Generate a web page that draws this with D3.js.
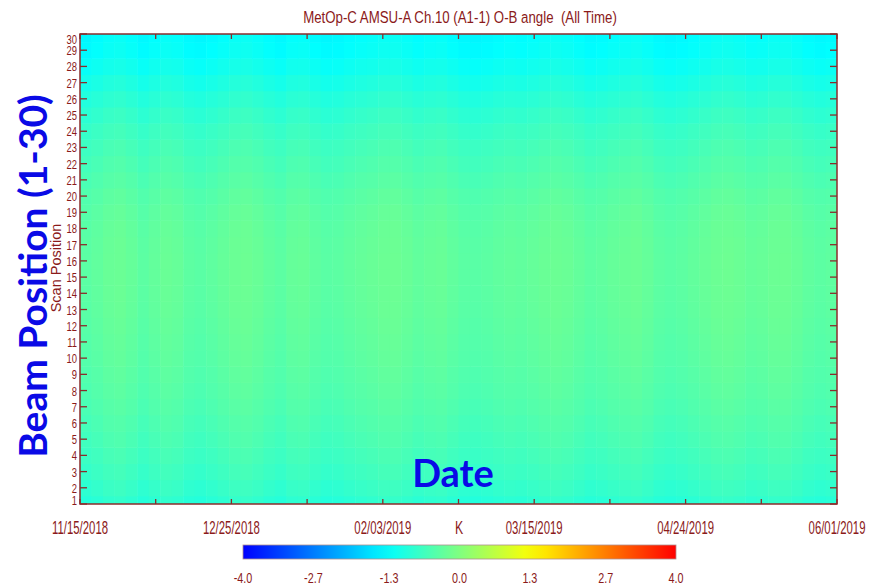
<!DOCTYPE html>
<html>
<head>
<meta charset="utf-8">
<script src="https://cdn.jsdelivr.net/npm/d3@7"></script>
<style>
  html, body { margin: 0; padding: 0; background: #fff; }
  svg { display: block; }
</style>
</head>
<body>
<svg id="chart" width="883" height="588"></svg>
<script>
// Mean O-B (K) for each beam position, 1 .. 30
const beamPositions = d3.range(1, 31);
const beamMean = [
  -0.90, -0.80, -0.72, -0.66, -0.60, -0.55, -0.50, -0.46, -0.43, -0.40,
  -0.38, -0.36, -0.34, -0.33, -0.32, -0.32, -0.33, -0.35, -0.38, -0.43,
  -0.50, -0.57, -0.64, -0.72, -0.82, -0.93, -1.06, -1.20, -1.31, -1.35
];

// Departure (K) of each 3-day period from the beam mean, 11/15/2018 onward
const dateOffset = [
  -0.06, 0.00, 0.07, 0.10, 0.04, -0.05, 0.02, 0.08, 0.05, -0.04,
  -0.07, -0.02, 0.04, 0.10, 0.12, 0.07, 0.00, -0.05, 0.04, 0.06,
  -0.02, -0.07, -0.05, 0.00, 0.04, 0.07, 0.11, 0.12, 0.07, 0.01,
  0.05, 0.07, 0.00, -0.06, -0.08, -0.05, -0.01, 0.02, 0.00, 0.04,
  0.08, 0.11, 0.08, 0.02, -0.04, -0.01, 0.04, 0.07, 0.10, 0.04,
  -0.04, -0.07, -0.04, 0.01, 0.06, 0.11, 0.13, 0.10, 0.04, 0.06,
  0.11, 0.12, 0.06, -0.01, -0.05, -0.02
];

// Date axis: labelled every 40 days, minor marks every 20 days
const dateLabels = ["11/15/2018", "12/25/2018", "02/03/2019", "03/15/2019", "04/24/2019", "06/01/2019"];
const dateTickDays = [0, 40, 80, 120, 160, 200];
const dateMinorDays = [20, 60, 100, 140, 180];
const daySpan = [0, 200];

// Colour bar
const colorTicks = [-4.0, -2.7, -1.3, 0.0, 1.3, 2.7, 4.0];
const colorDomain = [-4, 4];

const svg = d3.select("#chart");
const dark = "#8b1a1a";
const axisCol = "#8a2c2c";
const sans = "'Liberation Sans', Arial, sans-serif";

// Narrow lettering: a horizontally squeezed sans face placed at (x, y)
function narrowText(parent, x, y, k, size, anchor, str) {
  return parent.append("text")
    .attr("transform", `translate(${x},${y}) scale(${k},1)`)
    .attr("text-anchor", anchor)
    .attr("font-family", sans).attr("font-size", size)
    .attr("fill", dark)
    .style("white-space", "pre")
    .text(str);
}

const plot = { left: 80, right: 837, top: 34, bottom: 504 };

const xDay = d3.scaleLinear().domain(daySpan).range([plot.left, plot.right]);
const xBin = d3.scaleBand().domain(d3.range(dateOffset.length)).range([plot.left, plot.right]);
const y = d3.scaleLinear().domain([1, 30]).range([plot.bottom, plot.top]);

const color = d3.scaleLinear()
  .domain([-4, -4 / 3, 4 / 3, 4])
  .range(["#0000ff", "#00ffff", "#ffff00", "#ff0000"])
  .interpolate(d3.interpolateRgb)
  .clamp(true);

// Title
narrowText(svg, 460, 23, 0.78, 17, "middle", "MetOp-C AMSU-A Ch.10 (A1-1) O-B angle  (All Time)");

// Heat map cells
const defs = svg.append("defs");
defs.append("clipPath").attr("id", "plotClip")
  .append("rect")
  .attr("x", plot.left).attr("y", plot.top)
  .attr("width", plot.right - plot.left).attr("height", plot.bottom - plot.top);

const cells = [];
beamPositions.forEach((b, bi) => {
  dateOffset.forEach((d, di) => cells.push({ b, di, v: beamMean[bi] + d }));
});

svg.append("g").attr("clip-path", "url(#plotClip)")
  .selectAll("rect").data(cells).join("rect")
  .attr("x", d => xBin(d.di))
  .attr("width", xBin.bandwidth() + 0.5)
  .attr("y", d => y(d.b + 0.5))
  .attr("height", d => y(d.b - 0.5) - y(d.b + 0.5) + 0.5)
  .attr("fill", d => color(d.v));

// Frame
svg.append("rect")
  .attr("x", plot.left).attr("y", plot.top)
  .attr("width", plot.right - plot.left).attr("height", plot.bottom - plot.top)
  .attr("fill", "none").attr("stroke", axisCol).attr("stroke-width", 1.5);

// Beam position ticks, both sides, pointing inward
const yTicks = svg.append("g").attr("stroke", axisCol).attr("stroke-width", 1.3);
beamPositions.forEach(b => {
  yTicks.append("line").attr("x1", plot.left).attr("x2", plot.left + 7).attr("y1", y(b)).attr("y2", y(b));
  yTicks.append("line").attr("x1", plot.right - 7).attr("x2", plot.right).attr("y1", y(b)).attr("y2", y(b));
});

const yLabels = svg.append("g");
beamPositions.forEach(b => {
  const dy = b === 30 ? 10 : b === 1 ? 1 : 5;
  narrowText(yLabels, plot.left - 3, y(b) + dy, 0.7, 13.5, "end", String(b));
});

// Date ticks, top and bottom, pointing inward
const xTicks = svg.append("g").attr("stroke", axisCol).attr("stroke-width", 1.3);
dateTickDays.concat(dateMinorDays).forEach(d => {
  xTicks.append("line").attr("x1", xDay(d)).attr("x2", xDay(d)).attr("y1", plot.bottom).attr("y2", plot.bottom - 5);
  xTicks.append("line").attr("x1", xDay(d)).attr("x2", xDay(d)).attr("y1", plot.top).attr("y2", plot.top + 5);
});

const xLabels = svg.append("g");
dateTickDays.forEach((d, i) => narrowText(xLabels, xDay(d), 534, 0.65, 17.5, "middle", dateLabels[i]));

// Unit label above the colour bar
narrowText(svg, 459, 534, 0.7, 17.5, "middle", "K");

// Colour bar
const bar = { left: 243, right: 676, top: 545, bottom: 559 };
const xBar = d3.scaleLinear().domain(colorDomain).range([bar.left, bar.right]);
const grad = defs.append("linearGradient").attr("id", "barGrad")
  .attr("x1", "0%").attr("x2", "100%").attr("y1", "0%").attr("y2", "0%");
d3.range(0, 1.0001, 0.05).forEach(t => {
  grad.append("stop")
    .attr("offset", `${t * 100}%`)
    .attr("stop-color", color(colorDomain[0] + t * (colorDomain[1] - colorDomain[0])));
});
svg.append("rect")
  .attr("x", bar.left).attr("y", bar.top)
  .attr("width", bar.right - bar.left).attr("height", bar.bottom - bar.top)
  .attr("fill", "url(#barGrad)")
  .attr("stroke", "#b09090").attr("stroke-width", 0.8);

const barLabels = svg.append("g");
colorTicks.forEach(v => narrowText(barLabels, xBar(v), 583, 0.77, 14, "middle", v.toFixed(1)));

// Axis captions
svg.append("text")
  .attr("transform", "translate(61,268) rotate(-90)")
  .attr("text-anchor", "middle")
  .attr("font-family", sans).attr("font-size", 14.5)
  .attr("fill", dark)
  .text("Scan Position");

svg.append("text")
  .attr("transform", "translate(47,276) rotate(-90)")
  .attr("text-anchor", "middle")
  .attr("font-family", "Lato, 'Open Sans', sans-serif").attr("font-weight", "bold").attr("font-size", 39)
  .attr("fill", "#0a0ae6")
  .text("Beam Position (1-30)");

svg.append("text")
  .attr("x", 453).attr("y", 487)
  .attr("text-anchor", "middle")
  .attr("font-family", "Lato, 'Open Sans', sans-serif").attr("font-weight", "bold").attr("font-size", 38)
  .attr("fill", "#0a0ae6")
  .text("Date");
</script>
</body>
</html>
